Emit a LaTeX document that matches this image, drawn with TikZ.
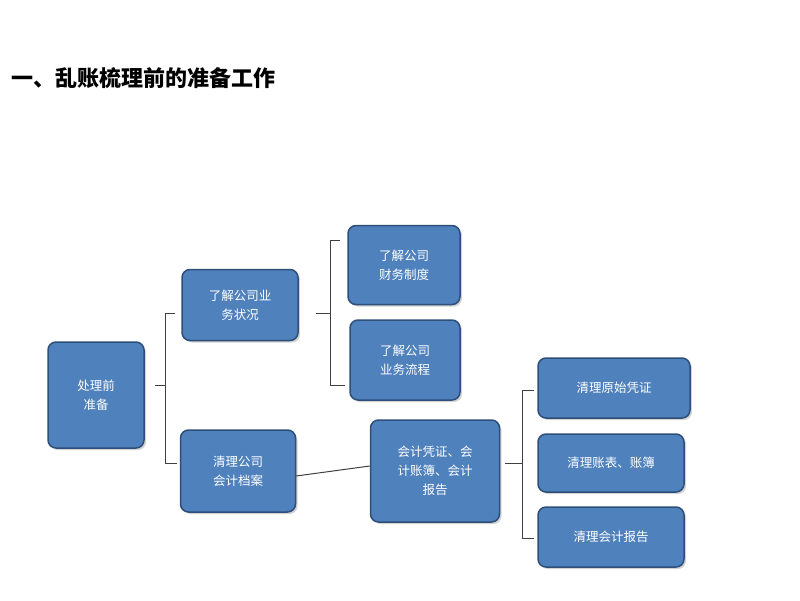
\documentclass[tikz,border=0pt]{standalone}
\usepackage{fontspec}
\newfontfamily\cjk{Noto Sans CJK SC}
\usetikzlibrary{shadows}
\definecolor{boxfill}{HTML}{4F81BD}
\definecolor{boxline}{HTML}{2E4F7A}
\begin{document}
\begin{tikzpicture}[x=1pt,y=-1pt,
  box/.style={draw=boxline,line width=1.5pt,fill=boxfill,rounded corners=8pt,
    text=white,font=\cjk\fontsize{12.5}{19}\selectfont,align=center,inner sep=0pt,
    drop shadow={shadow xshift=2pt,shadow yshift=-2pt,opacity=0.35}},
  br/.style={draw=black!75,line width=1pt}]
\useasboundingbox (0,0) rectangle (800,600);
\node[anchor=west,font=\cjk\bfseries\fontsize{22}{26}\selectfont] (title) at (8,78) {一、乱账梳理前的准备工作};
\node[box,minimum width=96,minimum height=106] (A) at (96,395) {处理前\\准备};
\node[box,minimum width=116,minimum height=71] (B) at (240,305) {了解公司业\\务状况};
\node[box,minimum width=115,minimum height=82] (C) at (238,471) {清理公司\\会计档案};
\node[box,minimum width=112,minimum height=79] (D) at (404,265) {了解公司\\财务制度};
\node[box,minimum width=110,minimum height=80] (E) at (405,360) {了解公司\\业务流程};
\node[box,minimum width=129,minimum height=102] (F) at (435,471) {会计凭证、会\\计账簿、会计\\报告};
\node[box,minimum width=152,minimum height=60] (G) at (614,388) {清理原始凭证};
\node[box,minimum width=146,minimum height=58] (H) at (611,463) {清理账表、账簿};
\node[box,minimum width=146,minimum height=60] (I) at (611,537) {清理会计报告};
\coordinate (b1) at (165,385);
\draw[br] (A.east) ++(10,-10) coordinate (t1) -- (b1);
\draw[br] (175,313) -- (165,313) -- (165,463) -- (177,463);
\draw[br] (B.east) ++(17,8) -- (330,313);
\draw[br] (340,240) -- (330,240) -- (330,385) -- (345,385);
\draw[br] (C.east) ++(0,5) -- ([yshift=5]F.west);
\draw[br] (F.east) ++(5,-8) -- (522,463);
\draw[br] (534,390) -- (522,390) -- (522,538) -- (534,538);
\end{tikzpicture}
\end{document}
